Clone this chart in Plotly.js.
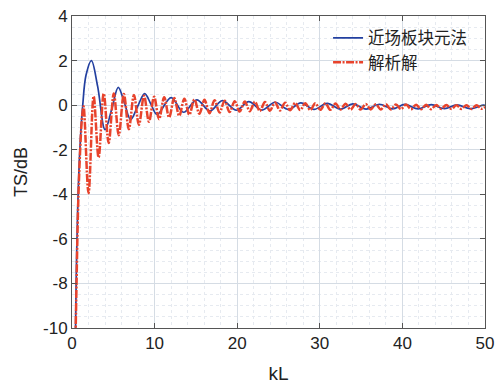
<!DOCTYPE html>
<html>
<head>
<meta charset="utf-8">
<script src="https://cdn.plot.ly/plotly-3.0.1.min.js"></script>
<style>html,body{margin:0;padding:0;background:#fff;}#chart{width:501px;height:388px;}</style>
</head>
<body>
<div id="chart"></div>
<script>
// Series names
const seriesNames = ["近场板块元法", "解析解"];

// Blue: near-field panel element method (start, extrema)
const blueX = [0.40, 0.50, 0.70, 0.95, 1.30, 1.70, 2.35, 3.10, 4.00, 4.80, 5.60, 6.35, 7.10, 7.95, 8.80, 9.55, 10.30, 12.00, 13.50, 15.10, 16.70, 18.20, 19.90, 21.40, 23.00, 24.60, 26.20, 27.70, 29.30, 30.90, 32.50, 34.00, 35.60, 37.20, 38.80, 40.30, 41.90, 43.50, 45.10, 46.60, 48.20, 49.80, 50.00];
const blueY = [-11.0, -8.0, -4.5, -2.0, 0.00, 1.35, 2.00, 0.85, -1.10, -0.20, 0.80, 0.10, -0.65, -0.05, 0.52, 0.05, -0.42, 0.34, -0.32, 0.24, -0.26, 0.20, -0.23, 0.16, -0.22, 0.13, -0.20, 0.10, -0.19, 0.08, -0.18, 0.06, -0.18, 0.04, -0.17, 0.03, -0.17, 0.02, -0.16, 0.01, -0.16, 0.00, -0.01];

// Red: analytic solution (start, alternating peaks/troughs)
const redX = [0.40, 0.55, 0.73, 0.90, 1.13, 1.25, 1.40, 2.00, 2.62, 3.22, 3.84, 4.44, 5.06, 5.66, 6.28, 6.88, 7.50, 8.10, 8.72, 9.32, 9.94, 10.54, 11.16, 11.76, 12.38, 12.98, 13.60, 14.20, 14.82, 15.42, 16.04, 16.64, 17.26, 17.86, 18.48, 19.08, 19.70, 20.30, 20.92, 21.52, 22.14, 22.74, 23.36, 23.96, 24.58, 25.18, 25.80, 26.40, 27.02, 27.62, 28.24, 28.84, 29.46, 30.06, 30.68, 31.28, 31.90, 32.50, 33.12, 33.72, 34.34, 34.94, 35.56, 36.16, 36.78, 37.38, 38.00, 38.60, 39.22, 39.82, 40.44, 41.04, 41.66, 42.26, 42.88, 43.48, 44.10, 44.70, 45.32, 45.92, 46.54, 47.14, 47.76, 48.36, 48.98, 49.58, 50.00];
const redY = [-11.0, -8.0, -4.7, -2.8, -0.97, -0.40, -0.05, -3.95, 0.40, -2.35, 0.52, -1.70, 0.52, -1.35, 0.50, -1.08, 0.46, -0.88, 0.42, -0.74, 0.38, -0.63, 0.35, -0.55, 0.32, -0.48, 0.29, -0.43, 0.26, -0.39, 0.24, -0.36, 0.22, -0.33, 0.20, -0.31, 0.18, -0.29, 0.16, -0.27, 0.15, -0.26, 0.14, -0.25, 0.12, -0.24, 0.11, -0.23, 0.10, -0.22, 0.09, -0.22, 0.08, -0.21, 0.08, -0.21, 0.07, -0.20, 0.06, -0.20, 0.05, -0.20, 0.05, -0.19, 0.04, -0.19, 0.04, -0.19, 0.03, -0.18, 0.03, -0.18, 0.02, -0.18, 0.02, -0.18, 0.01, -0.17, 0.01, -0.17, 0.00, -0.17, 0.00, -0.17, -0.01, -0.16, -0.08];

// Axis ticks
const xTicks = [0, 10, 20, 30, 40, 50];
const yTicks = [-10, -8, -6, -4, -2, 0, 2, 4];
const xTitle = "kL";
const yTitle = "TS/dB";

const traces = [
  {x: blueX, y: blueY, name: seriesNames[0], mode: "lines", type: "scatter",
   line: {color: "#2340a0", width: 1.7, shape: "spline", smoothing: 1}},
  {x: redX, y: redY, name: seriesNames[1], mode: "lines", type: "scatter",
   line: {color: "#e8432c", width: 2.5, shape: "spline", smoothing: 1, dash: "8px,1.5px,2px,1.5px"}}
];

const axisCommon = {
  showline: true, linecolor: "#555", linewidth: 1, mirror: "ticks",
  ticks: "inside", ticklen: 5, tickcolor: "#555",
  showgrid: true, gridcolor: "#d5dce4", gridwidth: 1,
  zeroline: false,
  tickfont: {family: "Liberation Sans, Arial, sans-serif", size: 17, color: "#222"},
  minor: {showgrid: true, gridcolor: "#e6eaf0", griddash: "dot", gridwidth: 1}
};

const layout = {
  width: 501, height: 388,
  margin: {l: 72, r: 16, t: 16, b: 60},
  paper_bgcolor: "#ffffff", plot_bgcolor: "#ffffff",
  showlegend: true,
  legend: {x: 0.62, y: 0.985, xanchor: "left", yanchor: "top", bgcolor: "rgba(0,0,0,0)",
           font: {family: "Noto Sans CJK SC, sans-serif", size: 16.5, color: "#222"},
           tracegroupgap: 0},
  xaxis: Object.assign({}, axisCommon, {
    range: [0, 50], tickvals: xTicks, ticktext: xTicks.map(String),
    minor: Object.assign({}, axisCommon.minor, {dtick: 2, tick0: 0}),
    title: {text: xTitle, font: {family: "Liberation Sans, Arial, sans-serif", size: 19, color: "#222"}, standoff: 14}
  }),
  yaxis: Object.assign({}, axisCommon, {
    range: [-10, 4], tickvals: yTicks, ticktext: yTicks.map(String),
    minor: Object.assign({}, axisCommon.minor, {dtick: 0.5, tick0: 0}),
    title: {text: yTitle, font: {family: "Liberation Sans, Arial, sans-serif", size: 18, color: "#222"}, standoff: 10}
  })
};

Plotly.newPlot("chart", traces, layout, {displayModeBar: false, staticPlot: true});
</script>
</body>
</html>
